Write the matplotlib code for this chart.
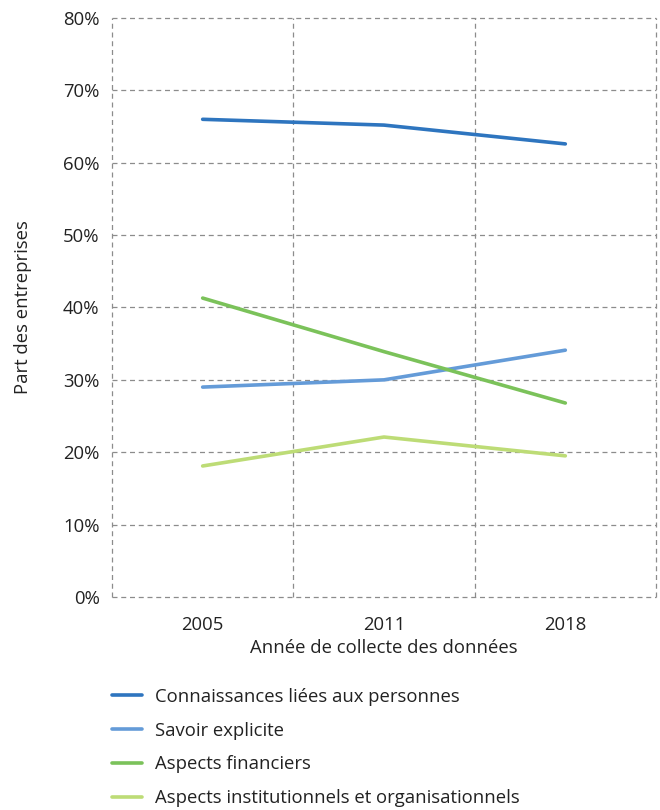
import matplotlib
matplotlib.use("Agg")
import matplotlib.pyplot as plt
from matplotlib.ticker import FuncFormatter

plt.rcParams["font.family"] = ["Open Sans", "DejaVu Sans"]

years = ["2005", "2011", "2018"]
series_names = [
    "Connaissances liées aux personnes",
    "Savoir explicite",
    "Aspects financiers",
    "Aspects institutionnels et organisationnels",
]
connaissances = [66.0, 65.2, 62.6]
savoir = [29.0, 30.0, 34.1]
financiers = [41.3, 33.9, 26.8]
institutionnels = [18.1, 22.1, 19.5]
colors = ["#2e75bf", "#649bd8", "#7bc25a", "#bddc76"]

FS = 13.3

fig = plt.figure(figsize=(6.6, 8.1), dpi=100)
ax = fig.add_axes([0.1697, 0.263, 0.8242, 0.7148])

x = list(range(len(years)))
for vals, name, col in zip([connaissances, savoir, financiers, institutionnels], series_names, colors):
    ax.plot(x, vals, color=col, linewidth=2.6, solid_capstyle="round", label=name, zorder=3)

ax.set_xlim(-0.5, 2.5)
ax.set_ylim(0, 80)
ax.set_xticks(x)
ax.set_xticklabels(years)
ax.set_yticks(range(0, 81, 10))
ax.yaxis.set_major_formatter(FuncFormatter(lambda v, p: f"{v:.0f}%"))

for s in ax.spines.values():
    s.set_visible(False)

# dashed grid on every 10% and on the category boundaries (also forms the frame)
grid_kw = dict(color="#8c8c8c", linewidth=0.9, linestyle=(0, (4, 3)), zorder=1, clip_on=False)
for yv in range(0, 81, 10):
    ax.axhline(yv, **grid_kw)
for xv in [-0.5, 0.5, 1.5, 2.5]:
    ax.axvline(xv, **grid_kw)

ax.tick_params(axis="both", length=0, labelsize=FS, colors="#222222")
ax.tick_params(axis="y", pad=9)
ax.tick_params(axis="x", pad=14)

ax.set_xlabel("Année de collecte des données", fontsize=FS, color="#222222", labelpad=3)
ax.set_ylabel("Part des entreprises", fontsize=FS, color="#222222", labelpad=22)

handles, labels = ax.get_legend_handles_labels()
fig.legend(handles, labels, loc="upper left", bbox_to_anchor=(0.159, 0.1602),
           frameon=False, fontsize=FS, handlelength=1.62, handletextpad=0.7,
           labelspacing=0.86, borderaxespad=0, labelcolor="#222222")

fig.savefig("out.png", dpi=100)
